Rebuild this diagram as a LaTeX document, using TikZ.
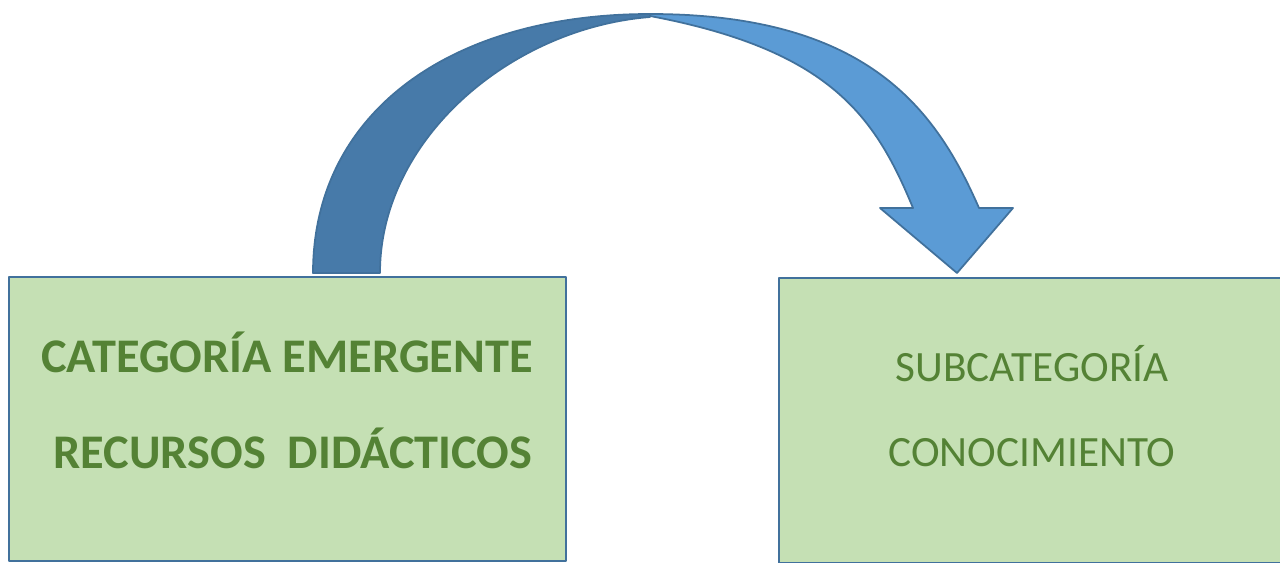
\documentclass[tikz,border=0pt]{standalone}
\usepackage{fontspec}
\setmainfont{Carlito}

\definecolor{boxfill}{HTML}{C5E0B4}
\definecolor{boxline}{HTML}{41719C}
\definecolor{textgreen}{HTML}{548235}
\definecolor{banddark}{HTML}{477AA9}
\definecolor{bandlight}{HTML}{5B9BD5}

\begin{document}
\begin{tikzpicture}[
  x=0.02cm,
  y=-0.02cm,
  line join=round,
  catbox/.style={draw=boxline, line width=1.1pt, fill=boxfill},
  cattext/.style={text=textgreen, anchor=base, inner sep=0pt},
  band/.style={draw=boxline, line width=1pt}
]
\useasboundingbox (0,0) rectangle (1280,562);

% ---------- boxes ----------
\draw[catbox] (9,277) rectangle (566,561);
\draw[catbox] (779,278) rectangle (1290,563);

% ---------- texts ----------
\node[cattext, font=\fontsize{27.5}{33}\selectfont\bfseries] (cat1) at (287,372) {CATEGORÍA EMERGENTE};
\node[cattext, font=\fontsize{27.5}{33}\selectfont\bfseries] (cat2) at (293,468) {RECURSOS\ \ DIDÁCTICOS};
\node[cattext, font=\fontsize{24.6}{30}\selectfont] (sub1) at (1032,381) {SUBCATEGORÍA};
\node[cattext, font=\fontsize{24.6}{30}\selectfont] (sub2) at (1032,466) {CONOCIMIENTO};

% ---------- curved arrow ----------
\coordinate (footO) at (313,273);
\coordinate (footI) at (380,273);
\coordinate (topO) at (650,14);
\coordinate (topI) at (650,17);
\coordinate (shaftO) at (979,208);
\coordinate (shaftI) at (913,208);
\coordinate (hL) at (880,208);
\coordinate (hR) at (1013,208);
\coordinate (tip) at (957,273);

% dark back part
\draw[band, fill=banddark]
  (footO) .. controls (313,113) and (450,14) .. (topO)
  -- (topI) .. controls (511,28) and (380,139) .. (footI)
  -- cycle;

% light front part with head
\draw[band, fill=bandlight]
  (topO) .. controls (870,14) and (937,112) .. (shaftO)
  -- (hR) -- (tip) -- (hL) -- (shaftI)
  .. controls (875,116) and (830,50) .. (650,16)
  -- cycle;

\end{tikzpicture}
\end{document}
